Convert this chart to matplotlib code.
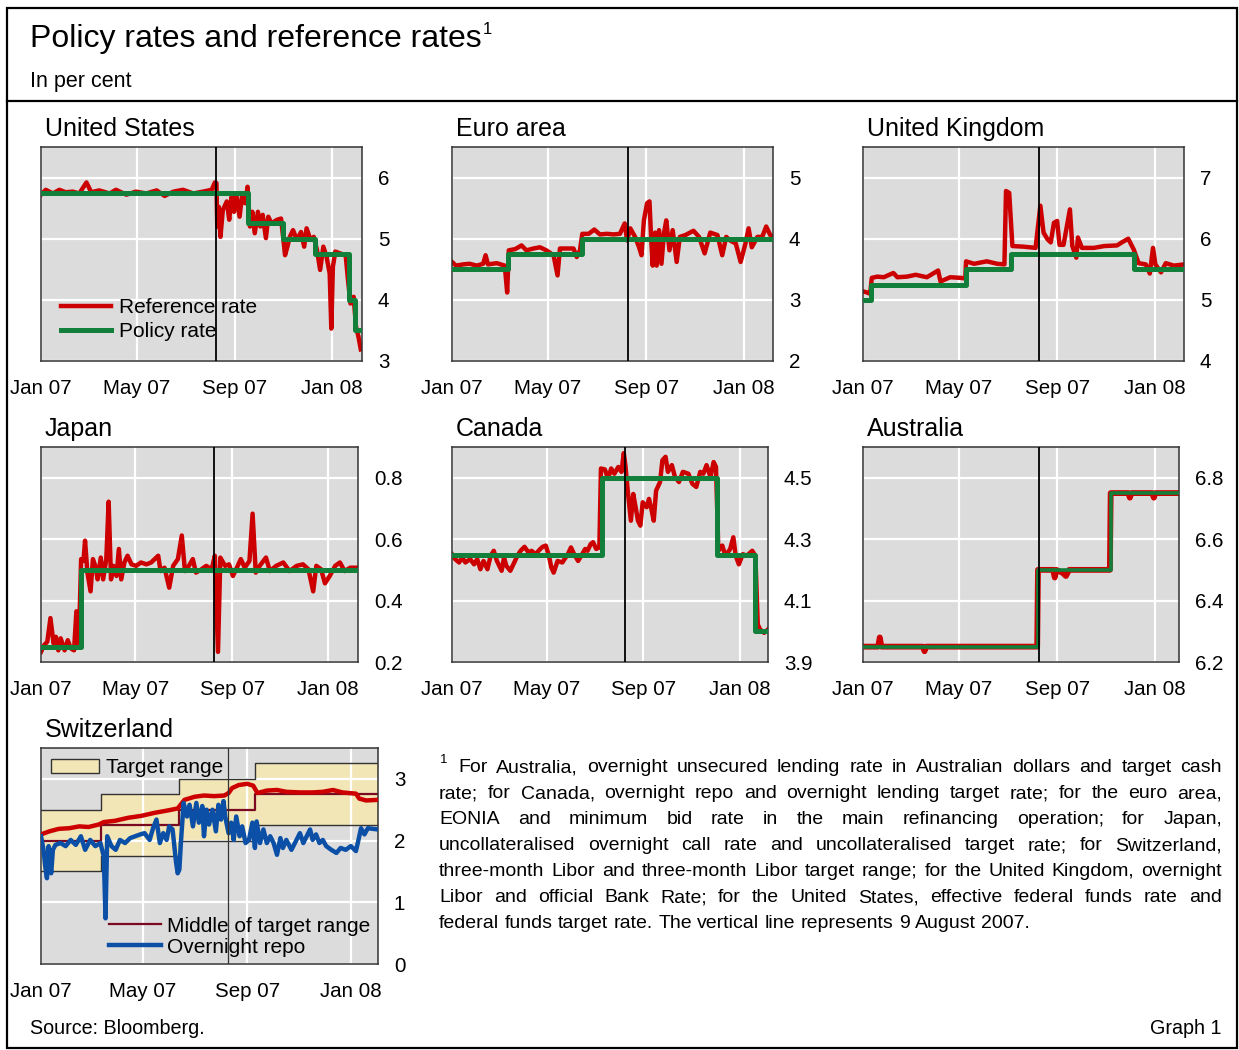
import numpy as np
import pandas as pd
import matplotlib
matplotlib.use('Agg')
import matplotlib.pyplot as plt
from matplotlib.lines import Line2D
from matplotlib.patches import Patch, Rectangle

plt.rcParams['font.family'] = ['Liberation Sans', 'DejaVu Sans']

W, H = 1239, 1050
START = pd.Timestamp('2007-01-01')
CRISIS_DAY = 220  # 9 August 2007

RED = '#cc0000'
GREEN = '#12803a'
BLUE = '#0b4fa6'
MID = '#7a0a22'
BAND = '#f2e6b6'

# ---- data (x = days since 1 Jan 2007, y = per cent) ----
tick_days = [0, 120, 243, 365]
tick_labels = ['Jan 07', 'May 07', 'Sep 07', 'Jan 08']

us_policy_days = [0, 260, 303, 344, 386, 394, 403]
us_policy = [5.75, 5.25, 5.0, 4.75, 4.0, 3.5, 3.5]
us_ref_days = [0, 6, 15, 23, 31, 40, 48, 57, 63, 73, 86, 94, 107, 119, 132, 145, 155, 166, 178, 191,
               203, 214, 218, 220, 221, 223, 225, 228, 233, 236, 239, 242, 245, 249, 252, 256, 259, 262,
               265, 268, 272, 275, 278, 282, 285, 289, 296, 301, 304, 306, 309, 312, 316, 321, 326, 330,
               333, 338, 342, 346, 350, 354, 358, 362, 364, 366, 369, 375, 382, 385, 388, 392, 395, 398, 401]
us_ref = [5.72, 5.80, 5.74, 5.80, 5.76, 5.77, 5.74, 5.92, 5.76, 5.79, 5.74, 5.80, 5.72, 5.77, 5.74, 5.79,
          5.70, 5.77, 5.80, 5.74, 5.77, 5.80, 5.92, 5.91, 5.20, 5.52, 5.03, 5.47, 5.61, 5.31, 5.69, 5.44,
          5.71, 5.36, 5.69, 5.58, 5.85, 5.20, 5.44, 5.09, 5.44, 5.20, 5.39, 5.01, 5.36, 5.25, 5.31, 5.33,
          4.98, 4.73, 4.87, 5.03, 5.14, 4.98, 5.11, 4.87, 5.17, 4.98, 5.03, 4.82, 4.49, 4.87, 4.71, 4.43,
          3.53, 4.54, 4.79, 4.76, 4.73, 4.32, 3.94, 4.05, 3.56, 3.40, 3.19]

euro_policy_days = [0, 70, 162, 402]
euro_policy = [3.5, 3.75, 4.0, 4.0]
euro_ref_days = [0, 5, 14, 22, 31, 39, 42, 45, 56, 66, 69, 71, 79, 87, 93, 102, 110, 118, 127, 132,
                 135, 143, 152, 156, 160, 163, 171, 178, 185, 194, 202, 210, 216, 219, 223, 229, 234, 237,
                 240, 244, 247, 249, 251, 254, 256, 259, 262, 265, 268, 272, 276, 281, 285, 292, 302, 309,
                 316, 323, 332, 338, 343, 348, 355, 361, 367, 371, 375, 382, 388, 393, 398, 402]
euro_ref = [3.62, 3.56, 3.58, 3.59, 3.56, 3.59, 3.73, 3.58, 3.60, 3.56, 3.12, 3.81, 3.83, 3.89, 3.81,
            3.84, 3.86, 3.81, 3.73, 3.40, 3.84, 3.84, 3.84, 3.70, 3.81, 4.08, 4.08, 4.15, 4.07, 4.08,
            4.07, 4.08, 4.25, 3.97, 4.17, 4.03, 3.86, 3.73, 4.30, 4.58, 4.61, 4.03, 3.56, 4.10, 3.56,
            4.14, 3.59, 4.08, 4.30, 3.81, 4.14, 3.62, 4.03, 4.06, 4.13, 4.03, 3.76, 4.10, 4.06, 3.73,
            4.03, 3.97, 3.92, 3.62, 3.92, 4.17, 3.86, 4.03, 4.03, 4.20, 4.06, 4.03]

uk_policy_days = [0, 10, 129, 185, 339, 402]
uk_policy = [5.0, 5.25, 5.5, 5.75, 5.5, 5.5]
uk_ref_days = [0, 5, 9, 11, 18, 26, 38, 43, 55, 66, 80, 94, 97, 109, 122, 128, 129, 139, 155, 168,
               177, 179, 183, 187, 201, 216, 222, 226, 231, 235, 239, 243, 246, 251, 259, 262, 267, 269,
               274, 289, 302, 318, 324, 332, 339, 345, 354, 359, 363, 366, 373, 379, 389, 402]
uk_ref = [5.14, 5.12, 5.10, 5.36, 5.38, 5.37, 5.44, 5.37, 5.38, 5.41, 5.37, 5.48, 5.30, 5.37, 5.36,
          5.35, 5.63, 5.59, 5.63, 5.59, 5.58, 6.78, 6.75, 5.88, 5.87, 5.85, 6.54, 6.10, 5.99, 5.94,
          6.26, 6.29, 5.90, 5.90, 6.48, 5.88, 5.69, 6.02, 5.85, 5.85, 5.88, 5.89, 5.94, 6.00, 5.82,
          5.60, 5.58, 5.43, 5.85, 5.58, 5.45, 5.60, 5.56, 5.58]

jp_policy_days = [0, 51, 403]
jp_policy = [0.25, 0.5, 0.5]
jp_ref_days = [0, 4, 8, 12, 16, 19, 22, 25, 30, 34, 38, 42, 45, 48, 51, 54, 56, 59, 63, 66,
               69, 72, 76, 79, 83, 86, 89, 92, 96, 99, 102, 106, 110, 115, 121, 127, 134, 140, 149, 152,
               157, 163, 168, 174, 179, 183, 188, 193, 197, 204, 210, 217, 221, 225, 228, 234, 239, 244,
               249, 254, 259, 265, 269, 273, 278, 286, 291, 299, 308, 316, 325, 333, 340, 346, 350, 356,
               361, 367, 374, 380, 386, 393, 403]
jp_ref = [0.233, 0.255, 0.266, 0.343, 0.260, 0.282, 0.238, 0.277, 0.238, 0.271, 0.244, 0.238, 0.365,
          0.249, 0.535, 0.529, 0.595, 0.491, 0.430, 0.535, 0.513, 0.469, 0.540, 0.469, 0.535, 0.722,
          0.469, 0.513, 0.480, 0.568, 0.469, 0.524, 0.546, 0.518, 0.513, 0.524, 0.518, 0.524, 0.546,
          0.496, 0.507, 0.442, 0.513, 0.535, 0.612, 0.496, 0.513, 0.535, 0.491, 0.502, 0.513, 0.502,
          0.546, 0.233, 0.540, 0.513, 0.518, 0.480, 0.507, 0.535, 0.507, 0.529, 0.683, 0.491, 0.513,
          0.540, 0.496, 0.513, 0.524, 0.496, 0.513, 0.518, 0.502, 0.430, 0.513, 0.502, 0.456, 0.480,
          0.513, 0.524, 0.496, 0.507, 0.507]

ca_policy_days = [0, 190, 336, 385, 401]
ca_policy = [4.25, 4.5, 4.25, 4.0, 4.0]
ca_ref_days = [0, 4, 9, 13, 17, 23, 28, 32, 36, 40, 45, 49, 53, 57, 63, 66, 69, 74, 79, 83,
               87, 92, 97, 101, 106, 112, 115, 119, 123, 126, 129, 134, 140, 147, 151, 155, 160, 164,
               169, 172, 176, 179, 183, 187, 189, 194, 198, 202, 206, 211, 215, 218, 220, 223, 227, 230,
               233, 236, 239, 242, 247, 250, 253, 256, 259, 264, 267, 271, 274, 279, 283, 288, 293, 300,
               305, 310, 315, 319, 323, 328, 332, 335, 338, 343, 347, 353, 357, 360, 364, 369, 374, 381,
               385, 388, 391, 396, 401]
ca_ref = [4.251, 4.235, 4.224, 4.240, 4.224, 4.235, 4.218, 4.235, 4.202, 4.229, 4.202, 4.246, 4.262,
          4.229, 4.197, 4.240, 4.213, 4.197, 4.224, 4.246, 4.262, 4.275, 4.257, 4.262, 4.251, 4.268,
          4.275, 4.279, 4.246, 4.208, 4.191, 4.229, 4.224, 4.251, 4.273, 4.251, 4.229, 4.246, 4.268,
          4.262, 4.284, 4.290, 4.268, 4.273, 4.530, 4.527, 4.497, 4.530, 4.513, 4.535, 4.519, 4.580,
          4.541, 4.458, 4.360, 4.447, 4.404, 4.360, 4.344, 4.420, 4.404, 4.431, 4.398, 4.360, 4.458,
          4.486, 4.557, 4.568, 4.519, 4.541, 4.502, 4.486, 4.519, 4.513, 4.480, 4.470, 4.519, 4.513,
          4.541, 4.502, 4.551, 4.535, 4.262, 4.279, 4.246, 4.268, 4.306, 4.246, 4.218, 4.251, 4.246,
          4.262, 4.246, 4.022, 4.006, 3.995, 4.006]

au_policy_days = [0, 219, 310, 396]
au_policy = [6.25, 6.5, 6.75, 6.75]
au_ref_days = [0, 19, 21, 23, 75, 77, 79, 218, 219, 238, 240, 242, 250, 254, 258, 309, 310, 332,
               334, 336, 362, 364, 366, 396]
au_ref = [6.25, 6.25, 6.28, 6.25, 6.25, 6.235, 6.25, 6.25, 6.5, 6.5, 6.475, 6.5, 6.49, 6.48, 6.5,
          6.5, 6.75, 6.75, 6.735, 6.75, 6.75, 6.735, 6.75, 6.75]

ch_band_days = [0, 71, 162, 252, 397]
ch_lower = [1.5, 1.75, 2.0, 2.25, 2.25]
ch_upper = [2.5, 2.75, 3.0, 3.25, 3.25]
ch_libor_days = [0, 10, 21, 33, 45, 56, 68, 74, 87, 103, 118, 134, 150, 161, 169, 181, 192, 204, 216,
                 221, 225, 233, 243, 250, 255, 266, 278, 289, 305, 320, 332, 344, 355, 371, 375, 383, 397]
ch_libor = [2.10, 2.15, 2.19, 2.20, 2.23, 2.22, 2.26, 2.30, 2.32, 2.37, 2.40, 2.45, 2.49, 2.52, 2.66,
            2.71, 2.73, 2.72, 2.73, 2.77, 2.85, 2.90, 2.92, 2.89, 2.77, 2.81, 2.82, 2.79, 2.78, 2.78,
            2.79, 2.82, 2.78, 2.76, 2.68, 2.65, 2.66]
ch_repo_days = [0, 3, 5, 7, 9, 12, 14, 17, 23, 29, 35, 41, 47, 52, 58, 64, 70, 74, 76, 78, 83, 88, 93,
                99, 105, 111, 117, 122, 128, 132, 136, 140, 144, 148, 151, 155, 159, 161, 163, 165, 168,
                172, 175, 179, 183, 186, 190, 192, 195, 198, 202, 206, 209, 212, 215, 217, 221, 224, 227,
                230, 234, 237, 241, 245, 249, 252, 254, 258, 262, 266, 270, 274, 278, 282, 285, 289, 295,
                301, 305, 309, 313, 317, 320, 324, 328, 332, 336, 342, 348, 353, 359, 365, 371, 374, 377,
                381, 385, 397]
ch_repo = [2.07, 1.85, 1.58, 1.39, 1.91, 1.47, 1.85, 1.93, 1.96, 1.91, 2.01, 1.93, 2.07, 1.85, 2.01,
           1.91, 1.96, 1.74, 0.74, 2.07, 1.91, 1.85, 2.01, 1.96, 2.04, 2.07, 2.10, 2.12, 2.01, 2.20,
           2.34, 1.96, 2.12, 2.01, 2.23, 2.18, 1.66, 1.47, 1.53, 2.01, 2.61, 2.39, 2.58, 2.23, 2.61,
           2.29, 2.56, 2.07, 2.50, 2.26, 2.50, 2.15, 2.58, 2.34, 2.64, 2.39, 2.12, 2.29, 2.01, 2.39,
           2.07, 2.23, 1.96, 2.01, 2.29, 1.88, 2.31, 1.96, 2.18, 1.96, 2.07, 1.96, 1.77, 2.04, 1.88,
           2.01, 1.85, 2.01, 2.12, 1.96, 2.07, 2.18, 2.01, 2.10, 1.96, 2.01, 1.91, 1.85, 1.80, 1.88,
           1.85, 1.91, 1.83, 2.01, 2.20, 2.10, 2.20, 2.18]

footnote_lines = [
    'For Australia, overnight unsecured lending rate in Australian dollars and target cash',
    'rate; for Canada, overnight repo and overnight lending target rate; for the euro area,',
    'EONIA and minimum bid rate in the main refinancing operation; for Japan,',
    'uncollateralised overnight call rate and uncollateralised target rate; for Switzerland,',
    'three-month Libor and three-month Libor target range; for the United Kingdom, overnight',
    'Libor and official Bank Rate; for the United States, effective federal funds rate and',
    'federal funds target rate. The vertical line represents 9 August 2007.',
]


def dates(days):
    return START + pd.to_timedelta(np.asarray(days, dtype=float), unit='D')


def px_rect(left, right, top, bottom):
    return [left / W, 1 - bottom / H, (right - left) / W, (bottom - top) / H]


def setup(ax, ylim, yticks, fmt, end_day):
    ax.set_facecolor('#dcdcdc')
    ax.set_xlim(dates([0])[0], dates([end_day])[0])
    ax.set_ylim(*ylim)
    ax.set_yticks(yticks)
    ax.set_yticklabels([fmt.format(v) for v in yticks])
    ax.yaxis.tick_right()
    ax.set_xticks(dates(tick_days))
    ax.set_xticklabels(tick_labels)
    ax.tick_params(length=0, labelsize=14.8)
    ax.tick_params(axis='x', pad=13)
    ax.tick_params(axis='y', pad=11.5)
    ax.grid(True, color='white', lw=1.6, zorder=0.5)
    ax.set_axisbelow(True)
    for s in ax.spines.values():
        s.set_color('#333333')
        s.set_linewidth(1.1)


fig = plt.figure(figsize=(W / 100, H / 100), dpi=100)

panels = [
    ('United States', (41, 362, 147, 361), (3, 6.5), [3, 4, 5, 6], '{:.0f}', 402.5,
     us_ref_days, us_ref, us_policy_days, us_policy),
    ('Euro area', (452, 773, 147, 361), (2, 5.5), [2, 3, 4, 5], '{:.0f}', 401.5,
     euro_ref_days, euro_ref, euro_policy_days, euro_policy),
    ('United Kingdom', (863, 1184, 147, 361), (4, 7.5), [4, 5, 6, 7], '{:.0f}', 401.8,
     uk_ref_days, uk_ref, uk_policy_days, uk_policy),
    ('Japan', (41, 358, 447, 662), (0.2, 0.9), [0.2, 0.4, 0.6, 0.8], '{:.1f}', 403,
     jp_ref_days, jp_ref, jp_policy_days, jp_policy),
    ('Canada', (452, 768, 447, 662), (3.9, 4.6), [3.9, 4.1, 4.3, 4.5], '{:.1f}', 401,
     ca_ref_days, ca_ref, ca_policy_days, ca_policy),
    ('Australia', (863, 1179, 447, 662), (6.2, 6.9), [6.2, 6.4, 6.6, 6.8], '{:.1f}', 395.5,
     au_ref_days, au_ref, au_policy_days, au_policy),
]

for name, box, ylim, yticks, fmt, end_day, rd, rv, pd_, pv in panels:
    ax = fig.add_axes(px_rect(*box))
    setup(ax, ylim, yticks, fmt, end_day)
    if name == 'Australia':
        ax.plot(dates(rd), rv, color=RED, lw=4.2, zorder=2, solid_capstyle='butt')
        ax.plot(dates(pd_), pv, color=GREEN, lw=2.6, drawstyle='steps-post', zorder=3)
    else:
        ax.plot(dates(rd), rv, color=RED, lw=3.2, zorder=2, label='Reference rate')
        ax.plot(dates(pd_), pv, color=GREEN, lw=3.6, drawstyle='steps-post', zorder=3,
                label='Policy rate')
    ax.axvline(dates([CRISIS_DAY])[0], color='black', lw=1.3, zorder=6)
    fig.text((box[0] + 4) / W, 1 - (box[2] - 18) / H, name, fontsize=18, va='center')
    if name == 'United States':
        leg = ax.legend(loc='lower left', frameon=False, fontsize=15, handlelength=2.4,
                        handletextpad=0.4, labelspacing=0.25, borderaxespad=0.55)
        leg.set_zorder(5)

# Switzerland
ax = fig.add_axes(px_rect(41, 378, 748, 964))
setup(ax, (0, 3.5), [0, 1, 2, 3], '{:.0f}', 397)
bd = dates(ch_band_days)
ch_mid = [(a + b) / 2 for a, b in zip(ch_lower, ch_upper)]
ax.fill_between(bd, ch_lower, ch_upper, step='post', color=BAND, lw=0, zorder=0.3)
ax.plot(bd, ch_upper, drawstyle='steps-post', color='#333333', lw=1.0, zorder=1)
ax.plot(bd, ch_lower, drawstyle='steps-post', color='#333333', lw=1.0, zorder=1)
ax.plot(bd, ch_mid, drawstyle='steps-post', color=MID, lw=1.6, zorder=2,
        label='Middle of target range')
ax.plot(dates(ch_libor_days), ch_libor, color=RED, lw=3.2, zorder=3)
ax.plot(dates(ch_repo_days), ch_repo, color=BLUE, lw=3.2, zorder=4, label='Overnight repo')
ax.axvline(dates([CRISIS_DAY])[0], color='#333333', lw=0.9, zorder=6)
fig.text(45 / W, 1 - 730 / H, 'Switzerland', fontsize=18, va='center')
leg1 = ax.legend(handles=[Patch(facecolor=BAND, edgecolor='#333333', lw=1.0)], labels=['Target range'],
                 loc='upper left', frameon=False, fontsize=15, handlelength=2.3, handleheight=0.7,
                 handletextpad=0.3, borderaxespad=0.1, borderpad=0.4)
ax.add_artist(leg1)
ax.legend(loc='lower right', frameon=False, fontsize=15, handlelength=2.5, handletextpad=0.3,
          labelspacing=0.1, borderaxespad=0.1, borderpad=0.25)

# header, frame and texts
fig.add_artist(Rectangle((7 / W, 1 - 1048 / H), 1230 / W, 1040 / H, transform=fig.transFigure,
                         fill=False, edgecolor='black', lw=1.6))
fig.add_artist(Line2D([7 / W, 1237 / W], [1 - 101 / H, 1 - 101 / H], transform=fig.transFigure,
                      color='black', lw=1.6))
title = fig.text(30 / W, 1 - 39 / H, 'Policy rates and reference rates', fontsize=23, va='center')
renderer = fig.canvas.get_renderer()
tb = title.get_window_extent(renderer)
fig.text((tb.x1 + 1) / W, 1 - 30 / H, '1', fontsize=12, va='center')
fig.text(30 / W, 1 - 81 / H, 'In per cent', fontsize=15.5, va='center')
fig.text(30 / W, 1 - 1028 / H, 'Source: Bloomberg.', fontsize=14.2, va='center')
fig.text(1222 / W, 1 - 1028 / H, 'Graph 1', fontsize=14.2, va='center', ha='right')

# justified footnote
fig.text(440 / W, 1 - 760 / H, '1', fontsize=9.5, va='center')
fsize = 14.0
space = fsize * 0.278 * 100 / 72
for i, line in enumerate(footnote_lines):
    y = 1 - (768 + 26 * i) / H
    x = 458 if i == 0 else 439
    words = line.split()
    texts = [fig.text(0, y, w, fontsize=fsize, va='center') for w in words]
    widths = [t.get_window_extent(renderer).width for t in texts]
    if i < len(footnote_lines) - 1:
        gap = max((1222 - x - sum(widths)) / (len(words) - 1), 2)
    else:
        gap = space
    for t, w in zip(texts, widths):
        t.set_x(x / W)
        x += w + gap

fig.savefig('out.png', dpi=100)
